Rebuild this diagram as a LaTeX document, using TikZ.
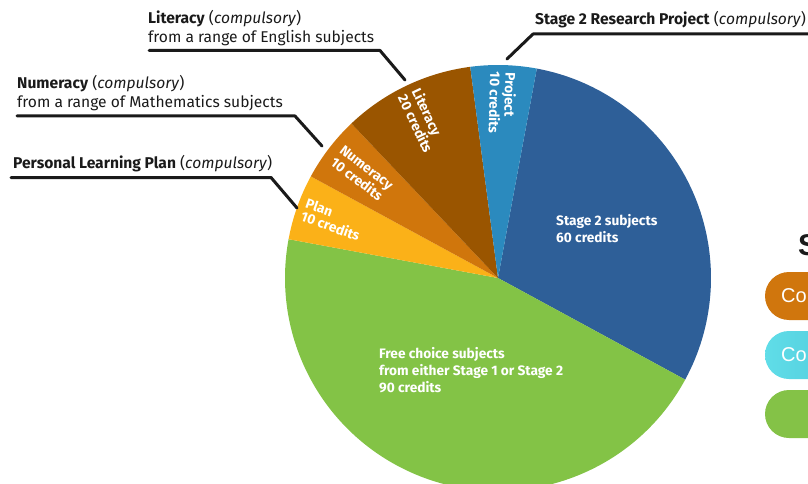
\documentclass[tikz,border=0pt]{standalone}
\usepackage{fontspec}
\setmainfont{Fira Sans}
\newfontfamily\legendfont{Liberation Sans}
\definecolor{stagetwo}{HTML}{2E5F98}
\definecolor{projectc}{HTML}{2B8ABE}
\definecolor{literacyc}{HTML}{9A5500}
\definecolor{numeracyc}{HTML}{D0760C}
\definecolor{planc}{HTML}{FBB118}
\definecolor{freec}{HTML}{83C346}
\definecolor{pillorange}{HTML}{D0760D}
\definecolor{pillcyanL}{HTML}{60DDE8}
\definecolor{pillcyanR}{HTML}{4CC6D8}
\definecolor{pillgreen}{HTML}{84C247}
\definecolor{inkc}{HTML}{1A1A1A}
\newcommand{\pieslice}[3]{\fill[#3] (C) -- ([shift={(#1:213)}]C) arc[start angle=#1, end angle=#2, radius=213] -- cycle;}
\begin{document}
\begin{tikzpicture}[x=1pt,y=1pt,
 callout/.style={line width=3pt,line cap=round,line join=round,inkc},
 calltext/.style={anchor=base west,inner sep=0pt,text=inkc,font=\fontsize{15.6}{19}\selectfont},
 slicelabel/.style={anchor=west,inner sep=0pt,align=left,text=white,font=\bfseries\fontsize{13.8}{14}\selectfont},
 biglabel/.style={anchor=base west,inner sep=0pt,text=white,font=\bfseries\fontsize{13.7}{17}\selectfont},
 pilltext/.style={anchor=base west,inner sep=0pt,text=white,font=\legendfont\fontsize{20}{24}\selectfont}
]
\useasboundingbox (0,0) rectangle (808,-484);
\clip (0,0) rectangle (808,-484);
\coordinate (C) at (498,-278);
% pie
\pieslice{79.5}{-28.5}{stagetwo}
\pieslice{-28.5}{-190.5}{freec}
\pieslice{169.5}{151.5}{planc}
\pieslice{151.5}{133.5}{numeracyc}
\pieslice{133.5}{97.5}{literacyc}
\pieslice{97.5}{79.5}{projectc}
% slice labels
\node[slicelabel,rotate=-91.5] (projLab) at ([shift={(88.5:206)}]C) {Project\\10 credits};
\node[slicelabel,rotate=-64.5] (litLab) at ([shift={(115.5:206)}]C) {Literacy\\20 credits};
\node[slicelabel,rotate=-37.5] (numLab) at ([shift={(142.5:203)}]C) {Numeracy\\10 credits};
\node[slicelabel,rotate=-19.5] (planLab) at ([shift={(160.5:206)}]C) {Plan\\10 credits};
\node[biglabel] (stageLab) at (556,-225) {\vtop{\hbox{Stage 2 subjects}\hbox{60 credits}}};
\node[biglabel] (freeLab) at (379,-358) {\vtop{\hbox{Free choice subjects}\hbox{from either Stage 1 or Stage 2}\hbox{90 credits}}};
% callouts
\node[calltext] (litText) at (148,-24) {\vtop{\hbox{\textbf{Literacy} (\textit{compulsory})}\hbox{from a range of English subjects}}};
\node[calltext] (numText) at (17,-88.5) {\vtop{\hbox{\textbf{Numeracy} (\textit{compulsory})}\hbox{from a range of Mathematics subjects}}};
\node[calltext] (planText) at (13,-168) {\textbf{Personal Learning Plan} (\textit{compulsory})};
\node[calltext] (projText) at (535,-25) {\textbf{Stage 2 Research Project} (\textit{compulsory})};
\coordinate (litA) at (149,-50.5);
\coordinate (litB) at (380,-50.5);
\coordinate (litC) at (405,-80);
\coordinate (numA) at (17,-116);
\coordinate (numB) at (295,-116);
\coordinate (numC) at (322,-146);
\coordinate (planA) at (11,-177.5);
\coordinate (planB) at (271,-177.5);
\coordinate (planC) at (297,-208);
\coordinate (projA) at (507,-59);
\coordinate (projB) at (533,-34);
\coordinate (projC) at (815,-34);
\draw[callout] (litA) -- (litB) -- (litC);
\draw[callout] (numA) -- (numB) -- (numC);
\draw[callout] (planA) -- (planB) -- (planC);
\draw[callout] (projA) -- (projB) -- (projC);
% legend (cut off at right edge)
\node[anchor=base west,inner sep=0pt,text=inkc,font=\legendfont\bfseries\fontsize{30}{34}\selectfont] (legTitle) at (798,-255) {S};
\fill[pillorange,rounded corners=24pt] (765,-272) rectangle (870,-320);
\shade[left color=pillcyanL,right color=pillcyanR,rounded corners=24pt] (765,-331) rectangle (870,-379);
\fill[pillgreen,rounded corners=24pt] (765,-390) rectangle (870,-438);
\node[pilltext] (pillA) at (781,-302.5) {Co};
\node[pilltext] (pillB) at (781,-361) {Co};
\end{tikzpicture}
\end{document}
